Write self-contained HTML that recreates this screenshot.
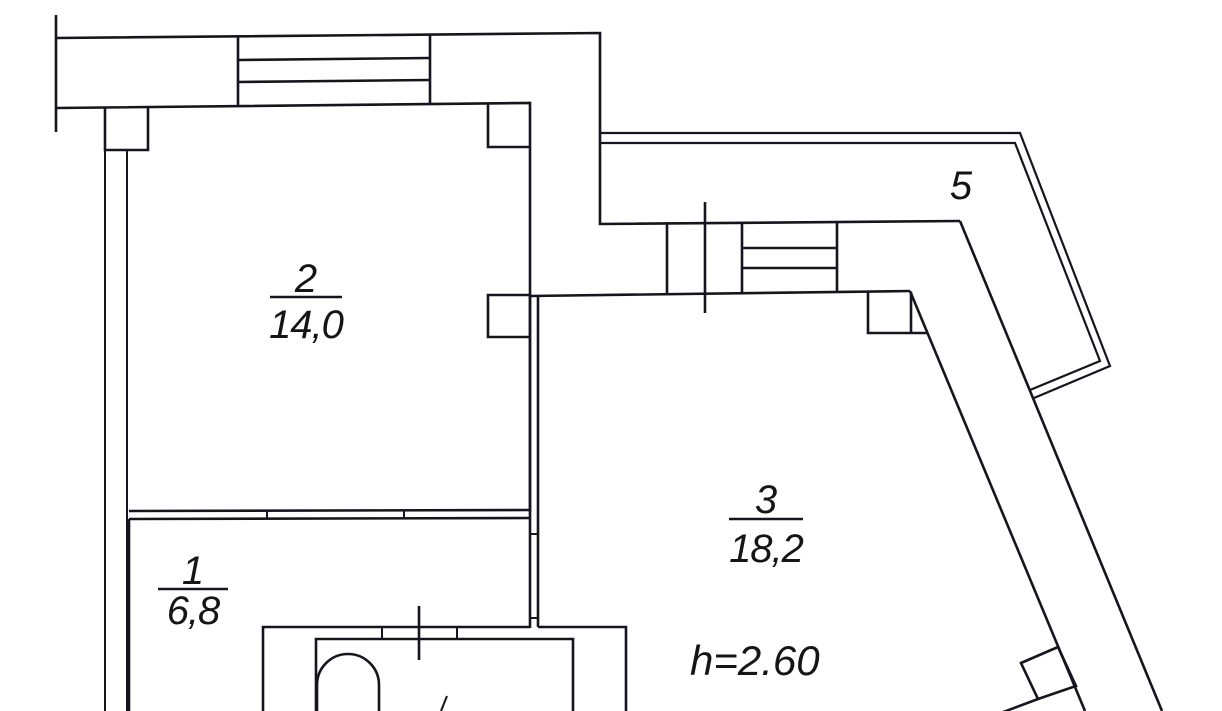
<!DOCTYPE html>
<html><head><meta charset="utf-8"><style>
html,body{margin:0;padding:0;background:#fff;}
svg{display:block;}
text{font-family:"Liberation Sans",sans-serif;font-style:italic;fill:#151515;}
</style></head><body>
<svg width="1222" height="711" viewBox="0 0 1222 711" xmlns="http://www.w3.org/2000/svg">
<g fill="none" stroke="#151520" stroke-width="2.6" stroke-linejoin="miter">
<!-- top-left wall -->
<line x1="56" y1="15" x2="56" y2="132"/>
<polyline points="56,38 600,33 600,224 960,221"/>
<polyline points="56,108 530,103 530,512"/>
<!-- top window -->
<line x1="238" y1="37" x2="238" y2="106"/>
<line x1="430" y1="35" x2="430" y2="104"/>
<line x1="238" y1="60" x2="430" y2="58"/>
<line x1="238" y1="82" x2="430" y2="80"/>
<!-- columns -->
<polyline points="105,108 105,150 148,150 148,108"/>
<polyline points="488,103 488,147 530,147"/>
<polyline points="530,295 488,295 488,337 530,337"/>
<!-- left wall -->
<line x1="105" y1="150" x2="105" y2="711" stroke-width="2"/>
<line x1="127" y1="150" x2="127" y2="711" stroke-width="2"/>
<!-- room2/room1 partition -->
<line x1="129" y1="511" x2="530" y2="510"/>
<line x1="129" y1="519" x2="530" y2="518"/>
<line x1="129" y1="519" x2="129" y2="711"/>
<line x1="267" y1="511" x2="267" y2="519" stroke-width="2"/>
<line x1="404" y1="510" x2="404" y2="518" stroke-width="2"/>
<!-- room3 left wall -->
<line x1="530" y1="295" x2="530" y2="628"/>
<line x1="538" y1="295" x2="538" y2="627"/>
<line x1="530" y1="534" x2="538" y2="534" stroke-width="2"/>
<line x1="530" y1="618" x2="538" y2="618" stroke-width="2"/>
<!-- bathroom -->
<polyline points="263,711 263,627 530,627"/>
<polyline points="538,627 626,627 626,711"/>
<polyline points="316,711 316,639 573,639 573,711"/>
<line x1="382" y1="627" x2="382" y2="639" stroke-width="2"/>
<line x1="457" y1="627" x2="457" y2="639" stroke-width="2"/>
<line x1="419" y1="606" x2="419" y2="660"/>
<path d="M317,711 L317,685 A31,31 0 0 1 379,685 L379,711"/>
<line x1="447" y1="696" x2="441" y2="711" stroke-width="2"/>
<!-- room3 top wall -->
<line x1="530" y1="296" x2="910" y2="291"/>
<line x1="667" y1="222" x2="667" y2="295"/>
<line x1="742" y1="222" x2="742" y2="294"/>
<line x1="837" y1="222" x2="837" y2="293"/>
<line x1="742" y1="248" x2="837" y2="248"/>
<line x1="742" y1="268" x2="837" y2="268"/>
<line x1="705" y1="202" x2="705" y2="313"/>
<polyline points="868,292 868,333 911,333 928,333"/>
<line x1="911" y1="292" x2="911" y2="333"/>
<!-- diagonal walls -->
<line x1="960" y1="221" x2="1162" y2="711"/>
<line x1="910" y1="291" x2="1085" y2="711"/>
<polygon points="1021,663 1058,647 1076,686 1038,699"/>
<line x1="1038" y1="699" x2="998" y2="714"/>
<!-- balcony -->
<polyline points="600,133 1020,133 1110,366 1034,398" stroke-width="2.2"/>
<polyline points="600,143 1015,143 1100,361 1030,390" stroke-width="2.2"/>
<!-- fraction bars -->
<line x1="270" y1="297" x2="342" y2="297"/>
<line x1="729" y1="519" x2="803" y2="519"/>
<line x1="158" y1="589" x2="228" y2="589"/>
</g>
<text x="306" y="292" font-size="40" text-anchor="middle">2</text>
<text x="306" y="338" font-size="40" text-anchor="middle" letter-spacing="-1">14,0</text>
<text x="766" y="513" font-size="40" text-anchor="middle">3</text>
<text x="766" y="562" font-size="40" text-anchor="middle" letter-spacing="-1">18,2</text>
<text x="193" y="584" font-size="40" text-anchor="middle">1</text>
<text x="193" y="624" font-size="40" text-anchor="middle" letter-spacing="-1">6,8</text>
<text x="961" y="199" font-size="40" text-anchor="middle">5</text>
<text x="690" y="675" font-size="42" letter-spacing="0">h=2.60</text>
</svg>
</body></html>
